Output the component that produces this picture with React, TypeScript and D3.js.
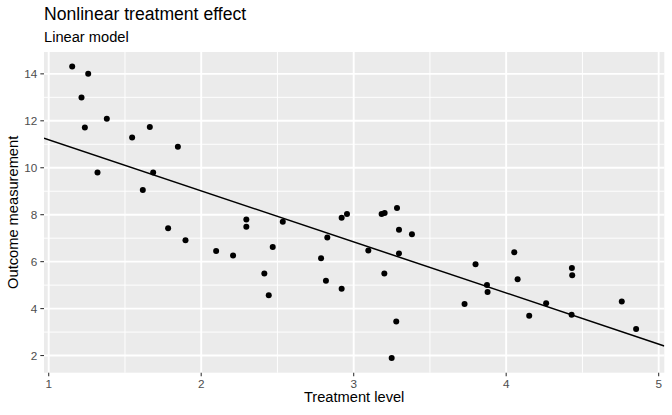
import React from "react";
import * as d3 from "d3";

const treatment = [
  1.154, 1.259, 1.215, 1.237, 1.381, 1.320, 1.547, 1.663, 1.847, 1.685, 1.617,
  1.783, 1.897, 2.098, 2.209, 2.296, 2.296, 2.535, 2.469, 2.414, 2.443, 2.786, 2.827, 2.818,
  2.921, 2.956, 2.921, 3.183, 3.203, 3.284, 3.297, 3.382, 3.096, 3.297, 3.201, 3.279, 3.249,
  3.799, 3.727, 3.874, 3.878, 4.053, 4.075, 4.151, 4.262, 4.431, 4.433, 4.429, 4.758, 4.852,
];
const outcome = [
  14.31, 14.0, 12.99, 11.71, 12.09, 9.80, 11.29, 11.74, 10.89, 9.80, 9.05,
  7.42, 6.91, 6.45, 6.26, 7.80, 7.49, 7.70, 6.62, 5.49, 4.57, 6.14, 7.03, 5.19,
  7.87, 8.03, 4.85, 8.03, 8.07, 8.28, 7.36, 7.17, 6.48, 6.35, 5.49, 3.45, 1.89,
  5.89, 4.20, 5.00, 4.71, 6.40, 5.25, 3.69, 4.23, 5.73, 5.42, 3.74, 4.30, 3.13,
];
const xTicks = [1, 2, 3, 4, 5];
const yTicks = [2, 4, 6, 8, 10, 12, 14];
const xMinor = [1.5, 2.5, 3.5, 4.5];
const yMinor = [3, 5, 7, 9, 11, 13];

const W = 672;
const H = 415;
const panel = { left: 44, right: 664.3, top: 52, bottom: 372.7 };

export default function App() {
  const xExt = d3.extent(treatment) as [number, number];
  const yExt = d3.extent(outcome) as [number, number];
  const xPad = (xExt[1] - xExt[0]) * 0.05;
  const yPad = (yExt[1] - yExt[0]) * 0.05;
  const x = d3.scaleLinear().domain([xExt[0] - xPad, xExt[1] + xPad]).range([panel.left, panel.right]);
  const y = d3.scaleLinear().domain([yExt[0] - yPad, yExt[1] + yPad]).range([panel.bottom, panel.top]);

  // least squares fit
  const mx = d3.mean(treatment) as number;
  const my = d3.mean(outcome) as number;
  let sxy = 0, sxx = 0;
  treatment.forEach((t, i) => {
    sxy += (t - mx) * (outcome[i] - my);
    sxx += (t - mx) * (t - mx);
  });
  const slope = sxy / sxx;
  const intercept = my - slope * mx;
  const [d0, d1] = x.domain();
  const fitPts: [number, number][] = [d0, d1].map((v) => [v, intercept + slope * v]);
  const line = d3.line<[number, number]>().x((d) => x(d[0])).y((d) => y(d[1]));

  const font = "'Liberation Sans', Arial, Helvetica, sans-serif";
  const pw = panel.right - panel.left;
  const ph = panel.bottom - panel.top;

  return (
    <svg width={W} height={H} style={{ position: "absolute", left: 0, top: 0, background: "#fff" }} fontFamily={font}>
      <rect x={0} y={0} width={W} height={H} fill="#fff" />
      <rect x={panel.left} y={panel.top} width={pw} height={ph} fill="#EBEBEB" />
      {xMinor.map((v) => (
        <line key={"xm" + v} x1={x(v)} x2={x(v)} y1={panel.top} y2={panel.bottom} stroke="#fff" strokeWidth={0.95} />
      ))}
      {yMinor.map((v) => (
        <line key={"ym" + v} x1={panel.left} x2={panel.right} y1={y(v)} y2={y(v)} stroke="#fff" strokeWidth={0.95} />
      ))}
      {xTicks.map((v) => (
        <line key={"xM" + v} x1={x(v)} x2={x(v)} y1={panel.top} y2={panel.bottom} stroke="#fff" strokeWidth={1.9} />
      ))}
      {yTicks.map((v) => (
        <line key={"yM" + v} x1={panel.left} x2={panel.right} y1={y(v)} y2={y(v)} stroke="#fff" strokeWidth={1.9} />
      ))}
      <defs>
        <clipPath id="clipPanel">
          <rect x={panel.left} y={panel.top} width={pw} height={ph} />
        </clipPath>
      </defs>
      <g clipPath="url(#clipPanel)">
        <path d={line(fitPts) || ""} fill="none" stroke="#000" strokeWidth={1.5} />
      </g>
      {treatment.map((t, i) => (
        <circle key={"p" + i} cx={x(t)} cy={y(outcome[i])} r={3} fill="#000" />
      ))}
      {xTicks.map((v) => (
        <g key={"xt" + v}>
          <line x1={x(v)} x2={x(v)} y1={panel.bottom} y2={panel.bottom + 3.67} stroke="#333333" strokeWidth={1.07} />
          <text x={x(v)} y={388} textAnchor="middle" fontSize={11.73} fill="#4D4D4D">{v}</text>
        </g>
      ))}
      {yTicks.map((v) => (
        <g key={"yt" + v}>
          <line x1={panel.left - 3.67} x2={panel.left} y1={y(v)} y2={y(v)} stroke="#333333" strokeWidth={1.07} />
          <text x={37.4} y={y(v)} dy="0.35em" textAnchor="end" fontSize={11.73} fill="#4D4D4D">{v}</text>
        </g>
      ))}
      <text x={(panel.left + panel.right) / 2} y={402} textAnchor="middle" fontSize={14.67} fill="#000">Treatment level</text>
      <text transform={`translate(17.5,${(panel.top + panel.bottom) / 2}) rotate(-90)`} textAnchor="middle" fontSize={14.67} fill="#000">Outcome measurement</text>
      <text x={panel.left} y={20.2} fontSize={17.6} fill="#000">Nonlinear treatment effect</text>
      <text x={panel.left} y={41.9} fontSize={14.67} fill="#000">Linear model</text>
    </svg>
  );
}
